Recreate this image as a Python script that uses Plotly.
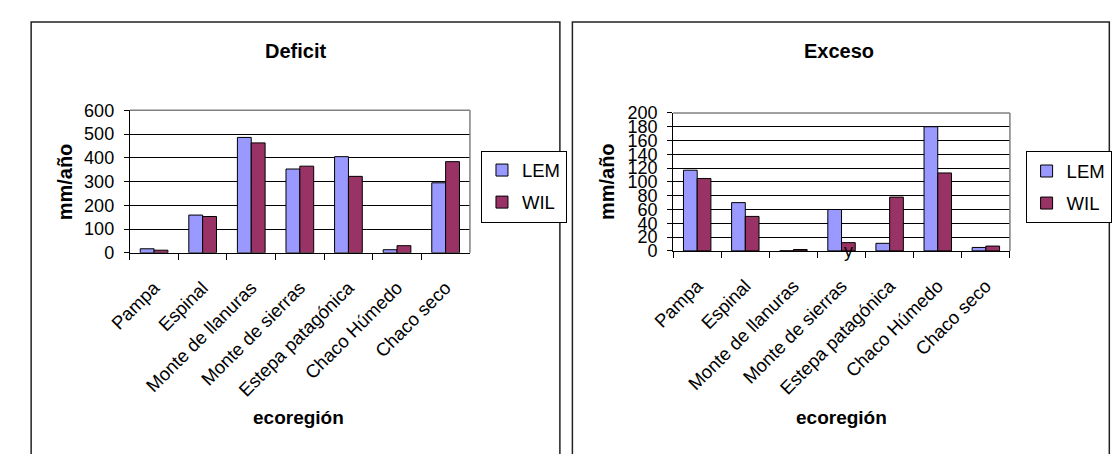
import plotly.graph_objects as go

# Ecoregions and yearly water balance (mm/año) for the two methods
categories = ["Pampa", "Espinal", "Monte de llanuras", "Monte de sierras",
              "Estepa patagónica", "Chaco Húmedo", "Chaco seco"]
deficit_lem = [17, 159, 486, 353, 405, 13, 295]
deficit_wil = [11, 153, 463, 365, 322, 30, 384]
exceso_lem = [117, 70, 0, 60, 11, 180, 5]
exceso_wil = [105, 50, 2, 12, 78, 113, 7]
series_names = ["LEM", "WIL"]
series_colors = ["#9999FF", "#993366"]

W, H = 1112, 454
FONT = "Liberation Sans, Arial, sans-serif"
FS_Y = 18
FS_X = 18.5
FS_LEG = 18.5


def px(x):
    return x / W


def py(y):
    return 1 - y / H


fig = go.Figure()

panels = [
    dict(key="d", values=[deficit_lem, deficit_wil], xa="x", ya="y", legend="legend"),
    dict(key="e", values=[exceso_lem, exceso_wil], xa="x2", ya="y2", legend="legend2"),
]
for p in panels:
    for name, vals, col in zip(series_names, p["values"], series_colors):
        fig.add_trace(go.Bar(
            x=categories, y=vals, name=name,
            marker=dict(color=col, line=dict(color="black", width=1)),
            xaxis=p["xa"], yaxis=p["ya"], legend=p["legend"],
            legendgroup=f"{p['key']}_{name}",
            hoverinfo="skip",
        ))

xcommon = dict(
    type="category", showgrid=False, zeroline=False,
    showline=True, linecolor="black", linewidth=1,
    ticks="outside", tickson="boundaries", ticklen=6, tickcolor="black",
    tickangle=-45, ticklabelstandoff=16,
    tickfont=dict(family=FONT, size=FS_X, color="black"),
    fixedrange=True,
)
ycommon = dict(
    showgrid=True, gridcolor="black", gridwidth=1, zeroline=False,
    showline=True, linecolor="black", linewidth=1,
    ticks="outside", ticklen=5, tickcolor="black", ticklabelstandoff=6,
    tickfont=dict(family=FONT, size=FS_Y, color="black"),
    fixedrange=True,
)

legend_style = dict(xanchor="left", yanchor="top",
                    bordercolor="black", borderwidth=1, bgcolor="white",
                    font=dict(family=FONT, size=FS_LEG, color="black"),
                    tracegroupgap=5, itemwidth=30,
                    itemclick=False, itemdoubleclick=False)

fig.update_layout(
    width=W, height=H,
    margin=dict(l=0, r=0, t=0, b=0),
    paper_bgcolor="white", plot_bgcolor="white",
    font=dict(family=FONT, size=FS_Y, color="black"),
    barmode="group", bargap=0.43, bargroupgap=0,
    xaxis=dict(domain=[px(112), px(465.5)], anchor="y", **xcommon),
    yaxis=dict(domain=[py(254), py(105)], anchor="x", range=[0, 600], dtick=100, **ycommon),
    xaxis2=dict(domain=[px(676.7), px(1026.7)], anchor="y2", **xcommon),
    yaxis2=dict(domain=[py(252), py(107.7)], anchor="x2", range=[0, 200], dtick=20, **ycommon),
    legend=dict(x=px(477), y=py(147), **legend_style),
    legend2=dict(x=px(1043), y=py(148), **legend_style),
    showlegend=True,
)

shapes = []
# gray top/right borders of each plot area
for x0, x1, y0, y1 in [(112, 465.5, 105, 254), (676.7, 1026.7, 107.7, 252)]:
    shapes.append(dict(type="line", xref="paper", yref="paper",
                       x0=px(x0), x1=px(x1), y0=py(y0), y1=py(y0),
                       line=dict(color="#808080", width=1.5)))
    shapes.append(dict(type="line", xref="paper", yref="paper",
                       x0=px(x1), x1=px(x1), y0=py(y0), y1=py(y1),
                       line=dict(color="#808080", width=1.5)))
# chart frames
shapes.append(dict(type="rect", xref="paper", yref="paper",
                   x0=px(9.5), x1=px(559), y0=py(470), y1=py(12.5),
                   line=dict(color="#222222", width=1.5), fillcolor="rgba(0,0,0,0)"))
shapes.append(dict(type="rect", xref="paper", yref="paper",
                   x0=px(572), x1=px(1130), y0=py(470), y1=py(12.5),
                   line=dict(color="#222222", width=1.5), fillcolor="rgba(0,0,0,0)"))
fig.update_layout(shapes=shapes)

annotations = []


def text(x, y, s, size=FS_Y, bold=False, angle=0):
    annotations.append(dict(
        x=px(x), y=py(y), xref="paper", yref="paper",
        text=f"<b>{s}</b>" if bold else s, showarrow=False,
        textangle=angle, xanchor="center", yanchor="middle",
        font=dict(family=FONT, size=size, color="black"),
    ))


text(284, 43, "Deficit", size=20, bold=True)
text(849, 43, "Exceso", size=20, bold=True)
text(45, 180, "mm/año", size=20, bold=True, angle=-90)
text(608, 180, "mm/año", size=20, bold=True, angle=-90)
text(287, 426, "ecoregión", size=19, bold=True)
text(852, 426, "ecoregión", size=19, bold=True)
text(859, 252, "y", size=FS_Y)
fig.update_layout(annotations=annotations)

fig.write_html("out.html")
